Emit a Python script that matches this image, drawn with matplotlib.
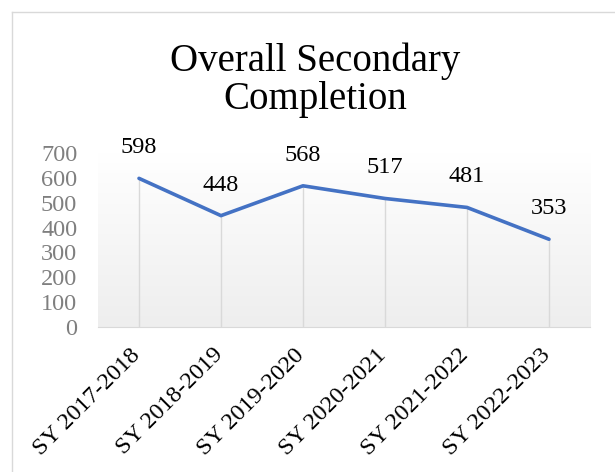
import numpy as np
import matplotlib.pyplot as plt
import matplotlib.transforms as mtransforms
from matplotlib.lines import Line2D
from matplotlib.colors import LinearSegmentedColormap

# donnees
years = ['SY 2017-2018', 'SY 2018-2019', 'SY 2019-2020',
         'SY 2020-2021', 'SY 2021-2022', 'SY 2022-2023']
completion = [598, 448, 568, 517, 481, 353]
yticks = [0, 100, 200, 300, 400, 500, 600, 700]

plt.rcParams['font.family'] = ['Liberation Serif', 'DejaVu Serif']

fig = plt.figure(figsize=(6.15, 4.72), dpi=100)
ax = fig.add_axes([98/615, 1-327/472, 492/615, 174/472])

# fond en degrade blanc -> gris clair
grad = np.linspace(0, 1, 256).reshape(-1, 1)
cmap = LinearSegmentedColormap.from_list('g', ['#ffffff', '#eeeeee'])
ax.imshow(grad, extent=[0, 1, 0, 1], transform=ax.transAxes, aspect='auto',
          cmap=cmap, origin='upper', zorder=0)

x = np.arange(len(years))
# lignes de rappel verticales (du point jusqu'a l'axe)
ax.vlines(x, 0, completion, color='#d9d9d9', lw=1, zorder=1)
ax.plot(x, completion, color='#4472C4', lw=2.6, zorder=3, solid_capstyle='round')
for xi, v in zip(x, completion):
    ax.annotate(str(v), (xi, v), xytext=(0, 22), textcoords='offset points',
                ha='center', va='center', fontsize=17.5, color='black')

ax.set_xlim(-0.5, len(years) - 0.5)
ax.set_ylim(0, 700)
ax.set_yticks(yticks)
ax.set_xticks(x)
ax.set_xticklabels(years, rotation=45, ha='right', va='top', rotation_mode='anchor', fontsize=17.5)
ax.tick_params(axis='y', labelsize=17.5, labelcolor='#7f7f7f', length=0, pad=15)
ax.tick_params(axis='x', length=0, pad=6)
# decaler les etiquettes vers le bas et la gauche
decal = mtransforms.ScaledTranslation(-9/100, -9/100, fig.dpi_scale_trans)
for lab in ax.get_xticklabels():
    lab.set_transform(lab.get_transform() + decal)
for s in ['top', 'right', 'left']:
    ax.spines[s].set_visible(False)
ax.spines['bottom'].set_color('#d9d9d9')

fig.text(315/615, 1-80/472, 'Overall Secondary\nCompletion', ha='center', va='center',
         fontsize=28, linespacing=1.05)

# bordure du cadre
fig.add_artist(Line2D([12/615, 12/615], [0, 1-12/472], color='#d9d9d9', lw=1))
fig.add_artist(Line2D([12/615, 1], [1-12/472, 1-12/472], color='#d9d9d9', lw=1))

fig.savefig('out.png', dpi=100)
